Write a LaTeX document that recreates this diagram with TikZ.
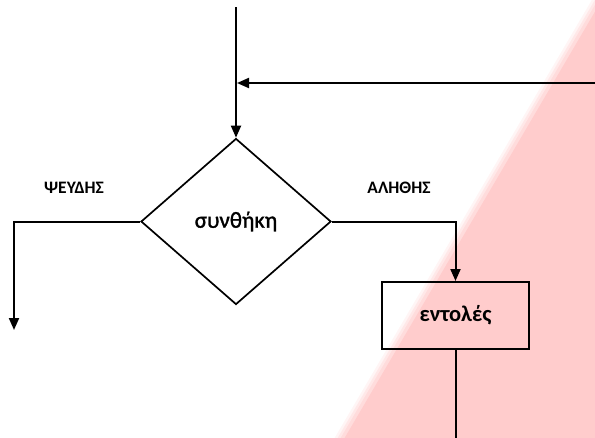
\documentclass[tikz,border=0pt]{standalone}
\usepackage{fontspec}
\setmainfont{Carlito}
\newfontfamily\condfont[FakeBold=1.3]{Carlito}
\usetikzlibrary{shapes.geometric,arrows.meta}
\definecolor{wmpink}{RGB}{255,204,204}
\tikzset{
  flow/.style={line width=2pt,draw=black},
  arr/.style={flow,-{Triangle[length=12pt,width=10pt]}},
  cond/.style={diamond,draw=black,line width=1.7pt,inner sep=0pt,minimum width=190pt,minimum height=166pt,font=\condfont\fontsize{23}{25}\selectfont},
  proc/.style={rectangle,draw=black,line width=2pt,minimum width=147pt,minimum height=67pt,inner sep=0pt,font=\bfseries\fontsize{22.5}{24}\selectfont},
  lbl/.style={font=\bfseries\fontsize{17.5}{19}\selectfont,inner sep=0pt}
}
\begin{document}
\begin{tikzpicture}[x=1pt,y=-1pt]
\useasboundingbox (0,0) rectangle (595,437);
% watermark wedge with a soft edge
\foreach \d/\o in {-9/0.2,-6/0.3,-3/0.45}{
  \fill[wmpink,opacity=\o] (602+\d,-2) -- (343+\d,439) -- (597,439) -- (597,-2) -- cycle;
}
\fill[wmpink] (603,-2) -- (344,439) -- (597,439) -- (597,-2) -- cycle;
% nodes
\node[cond] (c) at (236,221.5) {συνθήκη};
\node[proc] (b) at (455.5,315.5) {εντολές};
\node[lbl] (f) at (74,188) {ΨΕΥΔΗΣ};
\node[lbl] (t) at (399,187.5) {ΑΛΗΘΗΣ};
% coordinates
\coordinate (start) at (236,7);
\coordinate (loopin) at (596,83);
\coordinate (join) at (236,83);
\coordinate (fend) at (14,330);
\coordinate (bend) at (455.5,438);
% connectors
\draw[arr] (start) -- (c.north);
\draw[arr] (loopin) -- ([xshift=1pt]join);
\draw[arr] (c.west) -| (fend);
\draw[arr] (c.east) -| (b.north);
\draw[flow] (b.south) -- (bend);
\end{tikzpicture}
\end{document}
